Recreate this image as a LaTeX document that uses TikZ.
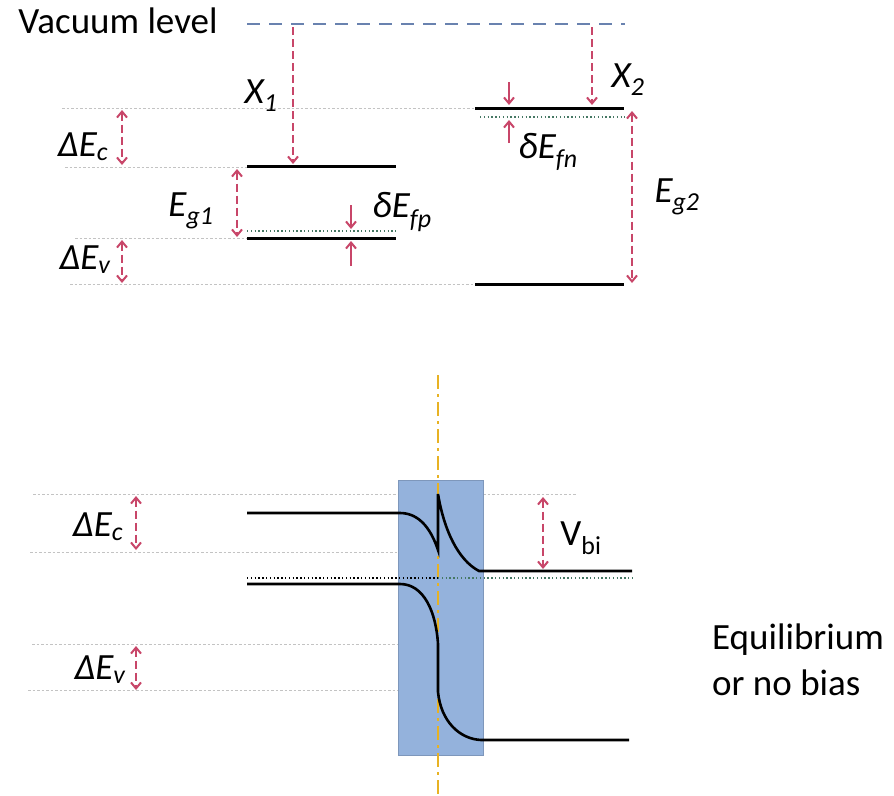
\documentclass[tikz,border=0pt]{standalone}
\usepackage{fontspec}
\setmainfont{Carlito}
\usetikzlibrary{arrows.meta}

\definecolor{vacblue}{RGB}{105,130,175}
\definecolor{arrred}{RGB}{200,70,105}
\definecolor{guidegrey}{RGB}{195,195,195}
\definecolor{fermigreen}{RGB}{70,120,100}
\definecolor{junction}{RGB}{148,178,220}
\definecolor{axisgold}{RGB}{232,178,35}

\tikzset{
  lbl/.style={font=\fontsize{37}{40}\selectfont\itshape, inner sep=0pt},
  txt/.style={font=\fontsize{37}{40}\selectfont, inner sep=0pt},
  band/.style={line width=3pt, black},
  guide/.style={guidegrey, line width=1pt, dash pattern=on 2.5pt off 2pt},
  fermi/.style={fermigreen, line width=1.3pt, dash pattern=on 1.3pt off 2.5pt},
  vacuum/.style={vacblue, line width=2.8pt, dash pattern=on 13pt off 9pt},
  gap/.style={arrred, line width=2pt, dash pattern=on 8pt off 4pt,
    {Straight Barb[length=6pt,width=10pt]}-{Straight Barb[length=6pt,width=10pt]}},
  drop/.style={arrred, line width=2pt, dash pattern=on 8pt off 4pt,
    -{Straight Barb[length=6pt,width=10pt]}},
  poke/.style={arrred, line width=2pt, -{Straight Barb[length=6pt,width=10pt]}}
}

\begin{document}
\begin{tikzpicture}[x=1pt,y=-1pt]
  \useasboundingbox (0,0) rectangle (894,795);

  % ---- separate materials ----
  \foreach \y/\a/\b in {108/62/475, 167/65/247, 238/75/247, 284/70/475}
    \draw[guide] (\a,\y) -- (\b,\y);

  \coordinate (vacL) at (247,24);  \coordinate (vacR) at (625,24);
  \draw[vacuum] (vacL) -- (vacR);
  \node[txt] (vac) at (118,21) {Vacuum level};

  \coordinate (ec1a) at (247,166); \coordinate (ec1b) at (396,166);
  \coordinate (ev1a) at (247,238); \coordinate (ev1b) at (396,238);
  \coordinate (ef1a) at (247,231); \coordinate (ef1b) at (396,231);
  \coordinate (ec2a) at (475,108); \coordinate (ec2b) at (624,108);
  \coordinate (ev2a) at (475,284); \coordinate (ev2b) at (624,284);
  \coordinate (ef2a) at (480,117); \coordinate (ef2b) at (625,117);
  \draw[fermi] (ef1a) -- (ef1b);
  \draw[fermi] (ef2a) -- (ef2b);
  \draw[band] (ec1a) -- (ec1b);
  \draw[band] (ev1a) -- (ev1b);
  \draw[band] (ec2a) -- (ec2b);
  \draw[band] (ev2a) -- (ev2b);

  % affinities
  \coordinate (x1t) at (293,27);  \coordinate (x1b) at (293,164);
  \coordinate (x2t) at (592,27);  \coordinate (x2b) at (592,105);
  \draw[drop] (x1t) -- (x1b);
  \draw[drop] (x2t) -- (x2b);
  \node[lbl] (chi1) at (261,96) {X\textsubscript{1}};
  \node[lbl] (chi2) at (628,80) {X\textsubscript{2}};

  % gaps and offsets
  \coordinate (g1t) at (237,169); \coordinate (g1b) at (237,237);
  \coordinate (g2t) at (632,111); \coordinate (g2b) at (632,283);
  \coordinate (dct) at (122,110); \coordinate (dcb) at (122,165);
  \coordinate (dvt) at (122,240); \coordinate (dvb) at (122,283);
  \draw[gap] (g1t) -- (g1b);
  \draw[gap] (g2t) -- (g2b);
  \draw[gap] (dct) -- (dcb);
  \draw[gap] (dvt) -- (dvb);
  \node[lbl] (eg1) at (191,211) {E\textsubscript{g1}};
  \node[lbl] (eg2) at (677,197) {E\textsubscript{g2}};
  \node[lbl] (dEc1) at (83,147) {ΔE\textsubscript{c}};
  \node[lbl] (dEv1) at (85,260) {ΔE\textsubscript{v}};

  \coordinate (fp1) at (351,205); \coordinate (fp2) at (351,229);
  \coordinate (fp3) at (351,266); \coordinate (fp4) at (351,241);
  \coordinate (fn1) at (509,82);  \coordinate (fn2) at (509,105);
  \coordinate (fn3) at (509,143); \coordinate (fn4) at (509,120);
  \draw[poke] (fp1) -- (fp2);
  \draw[poke] (fp3) -- (fp4);
  \draw[poke] (fn1) -- (fn2);
  \draw[poke] (fn3) -- (fn4);
  \node[lbl] (dfp) at (402,212) {δE\textsubscript{fp}};
  \node[lbl] (dfn) at (548,152) {δE\textsubscript{fn}};

  % ---- junction at equilibrium ----
  \foreach \y/\a/\b in {494/33/576, 552/30/440, 644/32/440, 690/28/440}
    \draw[guide] (\a,\y) -- (\b,\y);

  \fill[junction, draw=junction!85!black, line width=0.5pt] (398,480) rectangle (483,755);
  \coordinate (ifT) at (438,375); \coordinate (ifB) at (438,795);
  \draw[axisgold, line width=2.6pt, dash pattern=on 14pt off 5pt on 3pt off 5pt] (ifT) -- (ifB);

  \coordinate (efa) at (247,578); \coordinate (efm) at (438,578); \coordinate (efb) at (632,578);
  \draw[black, line width=1.2pt, dash pattern=on 1.3pt off 2.5pt] (efa) -- (efm);
  \draw[fermi] (efm) -- (efb);

  \draw[band, line width=2.6pt] (247,513) -- (400,513)
    .. controls (421,513) and (432,532) .. (438,550) -- (438,494)
    .. controls (444,530) and (458,560) .. (479,571) -- (632,571);
  \draw[band, line width=2.6pt] (247,584) -- (400,584)
    .. controls (424,584) and (436,612) .. (438,644) -- (438,692)
    .. controls (441,722) and (460,739) .. (481,740) -- (629,740);

  \coordinate (dct2) at (136,496); \coordinate (dcb2) at (136,550);
  \coordinate (dvt2) at (136,646); \coordinate (dvb2) at (136,690);
  \coordinate (vbt) at (543,497);  \coordinate (vbb) at (543,569);
  \draw[gap] (dct2) -- (dcb2);
  \draw[gap] (dvt2) -- (dvb2);
  \draw[gap] (vbt) -- (vbb);
  \node[lbl] (dEc2) at (98,527) {ΔE\textsubscript{c}};
  \node[lbl] (dEv2) at (100,670) {ΔE\textsubscript{v}};
  \node[txt] (vbi) at (581,538) {V\textsubscript{bi}};

  \node[txt, anchor=north west, align=left, font=\fontsize{37}{46}\selectfont] (eq) at (712,624) {Equilibrium\\or no bias};
\end{tikzpicture}
\end{document}
